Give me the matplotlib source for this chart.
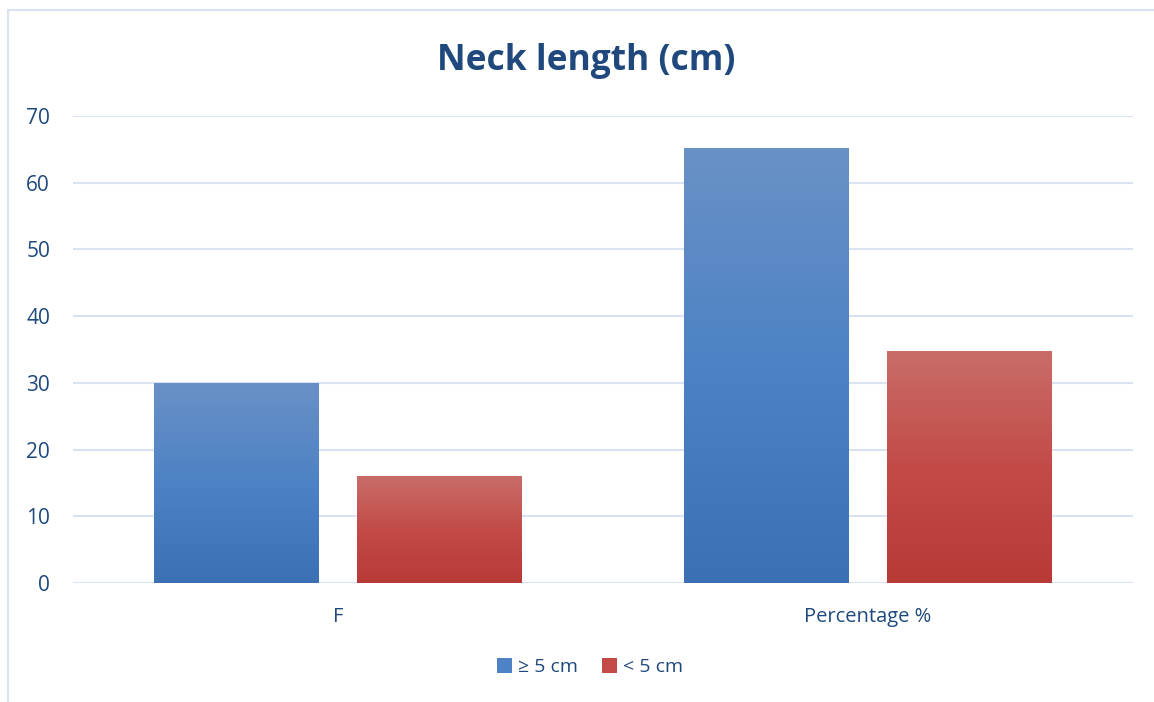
import numpy as np
import matplotlib.pyplot as plt
from matplotlib.colors import LinearSegmentedColormap
from matplotlib.patches import Rectangle

categories = ["F", "Percentage %"]
series = ["≥ 5 cm", "< 5 cm"]
long_neck = [30, 65.2]
short_neck = [16, 34.8]

text_col = "#1f497d"
grid_col = "#d9e3f3"
blue_stops = ["#3b70b3", "#4d82c4", "#6991c7"]
red_stops = ["#b83a37", "#c24b48", "#c96d69"]

plt.rcParams["font.family"] = ["Open Sans", "DejaVu Sans"]

fig = plt.figure(figsize=(11.54, 7.02), dpi=100)
ax = fig.add_axes([73 / 1154, 1 - 583 / 702, 1060 / 1154, 467 / 702])

# outer chart frame (only top and left edges fall inside the image)
fig.patches.append(Rectangle((8 / 1154, -0.1), 1.2, 1 - 10 / 702 + 0.1,
                             transform=fig.transFigure, fill=False,
                             edgecolor=grid_col, linewidth=1.5))

x = np.arange(len(categories))
width = 0.311
offset = (width + 0.072) / 2

grad = np.linspace(0, 1, 256).reshape(-1, 1)


def gradient_bars(xs, vals, stops, label):
    cmap = LinearSegmentedColormap.from_list(label, stops)
    bars = ax.bar(xs, vals, width, color=stops[1], label=label, zorder=2)
    for b in bars:
        x0, y0 = b.get_x(), b.get_y()
        w, h = b.get_width(), b.get_height()
        b.set_facecolor("none")
        b.set_edgecolor("none")
        im = ax.imshow(grad, cmap=cmap, aspect="auto", origin="lower",
                       extent=(x0, x0 + w, y0, y0 + h), zorder=2)
        im.set_clip_path(b)
    return bars


gradient_bars(x - offset, long_neck, blue_stops, series[0])
gradient_bars(x + offset, short_neck, red_stops, series[1])

ax.set_xlim(-0.5, 1.5)
ax.set_ylim(0, 70)
ax.set_yticks(range(0, 71, 10))
ax.set_xticks(x)
ax.set_xticklabels(categories)
ax.grid(axis="y", color=grid_col, linewidth=1.5, zorder=0)
ax.set_axisbelow(True)
for s in ax.spines.values():
    s.set_visible(False)
ax.tick_params(axis="both", length=0, colors=text_col)
ax.tick_params(axis="y", pad=16.5, labelsize=15)
ax.tick_params(axis="x", pad=17, labelsize=14.5)

fig.text(586 / 1154, 1 - 61 / 702, "Neck length (cm)", ha="center", va="center",
         fontsize=25.5, fontweight="bold", color=text_col)

handles = [Rectangle((0, 0), 1, 1, facecolor=blue_stops[1]),
           Rectangle((0, 0), 1, 1, facecolor=red_stops[1])]
fig.legend(handles, series, loc="center", bbox_to_anchor=(590 / 1154, 1 - 667 / 702),
           ncol=2, frameon=False, fontsize=14, handlelength=0.8, handleheight=0.8,
           handletextpad=0.3, columnspacing=1.2, labelcolor=text_col)

fig.savefig("out.png", dpi=100)
